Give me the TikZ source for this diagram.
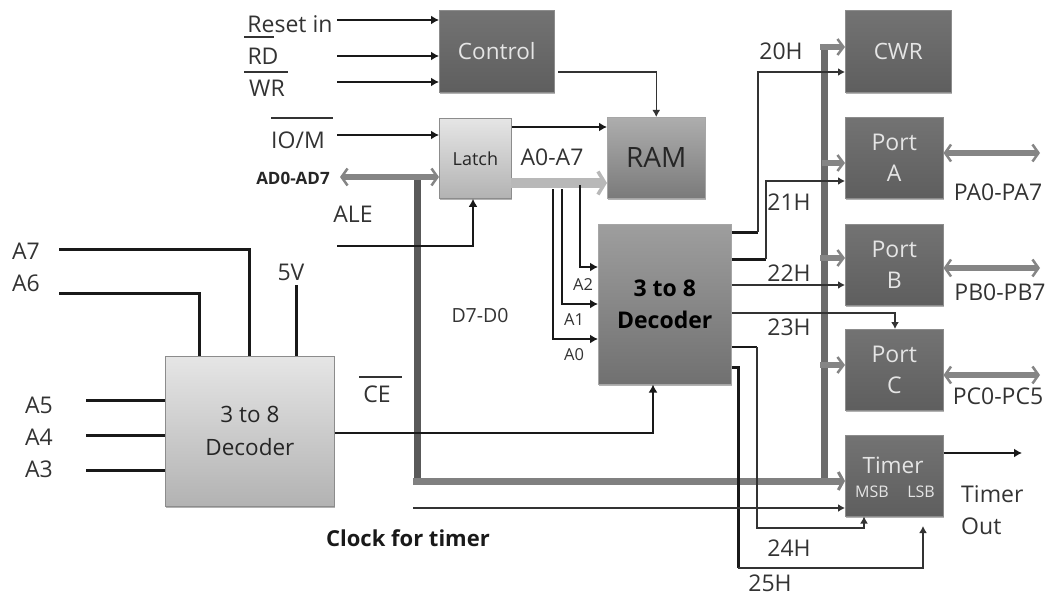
\documentclass[tikz,border=0pt]{standalone}
\usepackage{fontspec}
\setmainfont{Open Sans}
\usetikzlibrary{arrows.meta,shadows,calc}
\tikzset{
  sig/.style={draw=black!90,line width=2.8pt,-{Latex[length=8pt,width=9pt]}},
  wire/.style={draw=black!90,line width=3pt},
  thin sig/.style={draw=black!80,line width=1.5pt,-{Latex[length=7pt,width=8pt]}},
  stub/.style={draw=black!48,line width=6pt,-{Straight Barb[length=6pt,width=16pt,line width=2.5pt]}},
  dbl/.style={draw=black!48,line width=6pt,{Straight Barb[length=6pt,width=17pt,line width=2.5pt]}-{Straight Barb[length=6pt,width=17pt,line width=2.5pt]}},
  blockbase/.style={rectangle,inner sep=0pt,align=center,anchor=north west,
    drop shadow={shadow xshift=1pt,shadow yshift=-1.5pt,opacity=.3,fill=black}},
  darkbox/.style={blockbase,top color=black!55,bottom color=black!63,draw=black!45,line width=.5pt,text=white!90!black},
  midbox/.style={blockbase,top color=black!32,bottom color=black!52,draw=black!35,line width=.5pt,text=black!85},
  lightbox/.style={blockbase,top color=black!10,bottom color=black!30,draw=black!45,line width=.8pt,text=black!85},
  lab/.style={inner sep=0pt,text=black!80,font=\fontsize{23}{27}\selectfont},
  small/.style={inner sep=0pt,text=black!80,font=\fontsize{16.5}{20}\selectfont},
  over/.style={draw=black!80,line width=2.4pt},
}
\begin{document}
\begin{tikzpicture}[x=1pt,y=-1pt]
\useasboundingbox (0,0) rectangle (1051,596);
% boxes
\node[darkbox,minimum width=115pt,minimum height=82pt,font=\fontsize{22.5}{26}\selectfont] (control) at (439,10) {Control};
\node[lightbox,minimum width=72pt,minimum height=80pt,font=\fontsize{18}{22}\selectfont] (latch) at (439,118) {Latch};
\node[midbox,minimum width=98pt,minimum height=81pt,font=\fontsize{28}{32}\selectfont] (ram) at (607,117) {RAM};
\node[midbox,top color=black!38,bottom color=black!56,minimum width=133pt,minimum height=160pt,font=\bfseries\fontsize{23}{32}\selectfont,text=black] (dec) at (598,224) {3 to 8\\Decoder};
\node[darkbox,minimum width=106pt,minimum height=82pt,font=\fontsize{22.5}{26}\selectfont] (cwr) at (845,10) {CWR};
\node[darkbox,minimum width=98pt,minimum height=81pt,font=\fontsize{23}{31}\selectfont] (porta) at (845,117) {Port\\A};
\node[darkbox,minimum width=98pt,minimum height=81pt,font=\fontsize{23}{31}\selectfont] (portb) at (845,224) {Port\\B};
\node[darkbox,minimum width=98pt,minimum height=81pt,font=\fontsize{23}{31}\selectfont] (portc) at (845,329) {Port\\C};
\node[darkbox,minimum width=98pt,minimum height=81pt] (timer) at (845,435) {};
\node[lightbox,minimum width=169pt,minimum height=150pt,font=\fontsize{22.5}{33}\selectfont] (left) at (165,356) {3 to 8\\Decoder};
% free ends
\coordinate (iReset) at (337,20);
\coordinate (iRD) at (337,56);
\coordinate (iWR) at (337,82);
\coordinate (iIO) at (337,135);
\coordinate (iAD) at (340,177);
\coordinate (iALE) at (337,246);
\coordinate (iA7) at (59,249);
\coordinate (iA6) at (59,293);
\coordinate (i5V) at (296,285);
\coordinate (iA5) at (86,400);
\coordinate (iA4) at (86,435);
\coordinate (iA3) at (86,470);
\coordinate (busTop) at (417,179);
\coordinate (busCorner) at (417,481);
\coordinate (rbTop) at (824,44);
\coordinate (rbBot) at (824,484);
\coordinate (clk) at (413,508);
\coordinate (tout) at (1022,453);
\coordinate (pae) at (1040,153);
\coordinate (pbe) at (1040,268);
\coordinate (pce) at (1040,375);
\coordinate (aBus) at (511,183);
% buses
\draw[draw=black!65,line width=7pt] (busTop) -- (busCorner);
\draw[draw=black!58,line width=7pt] (rbTop) -- (rbBot);
\draw[dbl] (iAD) -- (iAD -| latch.west);
\draw[draw=black!50,line width=7pt,-{Straight Barb[length=5pt,width=18pt,line width=3pt]}] (413,481) -- (busCorner -| timer.west);
\draw[draw=black!28,line width=10pt,-{Straight Barb[length=7pt,width=23pt,line width=3.5pt]}] (aBus) -- (aBus -| ram.west);
\draw[stub] (820,47) -- (cwr.west |- 0,47);
\draw[stub] (822,163) -- (porta.west |- 0,163);
\draw[stub] (820,258) -- (portb.west |- 0,258);
\draw[stub] (820,365) -- (portc.west |- 0,365);
\draw[dbl] (porta.east |- pae) -- (pae);
\draw[dbl] (portb.east |- pbe) -- (pbe);
\draw[dbl] (portc.east |- pce) -- (pce);
% control signals
\draw[sig] (iReset) -- (iReset -| control.west);
\draw[sig] (iRD) -- (iRD -| control.west);
\draw[sig] (iWR) -- (iWR -| control.west);
\draw[sig] (iIO) -- (iIO -| latch.west);
\draw[sig] (latch.east |- 0,127) -- (ram.west |- 0,127);
\draw[thin sig] (558,72) -| (ram.north);
\draw[sig] (iALE) -| (latch.south -| 473,0);
% address lines to decoder
\draw[sig] (580,185) |- (dec.west |- 0,267);
\draw[sig] (562,189) |- (dec.west |- 0,304);
\draw[sig] (553,189) |- (dec.west |- 0,339);
% outputs
\draw[wire] (dec.east |- 0,232) -- (758,232);
\draw[thin sig] (758,232) |- (cwr.west |- 0,72);
\draw[wire] (dec.east |- 0,259) -- (766,259);
\draw[thin sig] (766,259) |- (porta.west |- 0,181);
\draw[thin sig] (dec.east |- 0,285) -- (portb.west |- 0,285);
\draw[thin sig] (dec.east |- 0,313) -| (portc.north -| 895,0);
\draw[wire,line width=2.2pt] (dec.east |- 0,347) -- (757,347);
\draw[thin sig] (757,347) |- (864,528) -- (timer.south -| 864,0);
\draw[wire] (dec.east |- 0,367) -- (738,367) -- (738,568);
\draw[thin sig] (738,568) -| (923,526);
\draw[thin sig] (clk) -- (timer.west |- clk);
\draw[sig] (timer.east |- tout) -- (tout);
\draw[wire,line width=2.2pt,-{Latex[length=8pt,width=9pt]}] (left.east |- 0,433) -| (dec.south -| 653,0);
% left decoder inputs
\draw[wire] (iA7) -| (left.north -| 249,0);
\draw[wire] (iA6) -| (left.north -| 199,0);
\draw[wire] (i5V) -- (left.north -| i5V);
\draw[wire] (iA5) -- (iA5 -| left.west);
\draw[wire] (iA4) -- (iA4 -| left.west);
\draw[wire] (iA3) -- (iA3 -| left.west);
% labels
\node[lab] (tReset) at (290,24) {Reset in};
\node[lab] (tRD) at (263,56) {RD};
\node[lab] (tWR) at (267,88) {WR};
\node[lab] (tIO) at (298,140) {IO/M};
\node[inner sep=0pt,text=black!85,font=\bfseries\fontsize{17}{20}\selectfont] (tAD) at (293,178) {AD0-AD7};
\node[lab] (tALE) at (353,214) {ALE};
\node[lab] (tAA) at (552,157) {A0-A7};
\node[inner sep=0pt,text=black!80,font=\fontsize{19.5}{23}\selectfont] (tD) at (480,316) {D7-D0};
\node[lab] (t5V) at (291,272) {5V};
\node[lab] (tA7) at (26,251) {A7};
\node[lab] (tA6) at (26,283) {A6};
\node[lab] (tA5) at (39,405) {A5};
\node[lab] (tA4) at (39,437) {A4};
\node[lab] (tA3) at (39,469) {A3};
\node[lab] (tCE) at (377,394) {CE};
\node[inner sep=0pt,text=black!90,font=\bfseries\fontsize{22}{26}\selectfont] (tClk) at (408,538) {Clock for timer};
\node[small] (tA2) at (583,285) {A2};
\node[small] (tA1) at (574,320) {A1};
\node[small] (tA0) at (574,355) {A0};
\node[lab] (t20) at (781,51) {20H};
\node[lab] (t21) at (789,202) {21H};
\node[lab] (t22) at (789,273) {22H};
\node[lab] (t23) at (789,327) {23H};
\node[lab] (t24) at (789,548) {24H};
\node[lab] (t25) at (770,583) {25H};
\node[lab] (tPA) at (998,192) {PA0-PA7};
\node[lab] (tPB) at (1000,292) {PB0-PB7};
\node[lab] (tPC) at (998,396) {PC0-PC5};
\node[lab,anchor=west] (tT1) at (961,494) {Timer};
\node[lab,anchor=west] (tT2) at (961,526) {Out};
\node[inner sep=0pt,text=white!90!black,font=\fontsize{22.5}{26}\selectfont] (tTimer) at (893,465) {Timer};
\node[inner sep=0pt,text=white!90!black,font=\fontsize{16}{19}\selectfont] (tMSB) at (872,492) {MSB};
\node[inner sep=0pt,text=white!90!black,font=\fontsize{16}{19}\selectfont] (tLSB) at (921,492) {LSB};
% overbars
\draw[over] (244,37) -- (274,37);
\draw[over] (244,72) -- (288,72);
\draw[over] (271,118) -- (333,118);
\draw[over] (359,377) -- (402,377);
\end{tikzpicture}
\end{document}
